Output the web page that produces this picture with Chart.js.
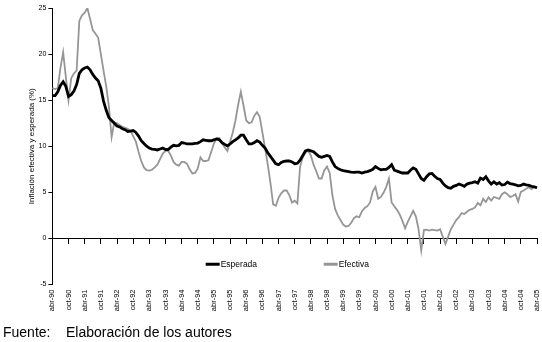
<!DOCTYPE html>
<html>
<head>
<meta charset="utf-8">
<script src="https://cdn.jsdelivr.net/npm/chart.js@4/dist/chart.umd.min.js"></script>
<style>
  body { margin: 0; background: #fff; }
  #caja { width: 542px; height: 342px; }
</style>
</head>
<body>
<div id="caja"><canvas id="grafico"></canvas></div>
<script>
// inflacion mensual, abr-90 a abr-05
var esperada = [
  15.5, 15.5, 15.9, 16.6, 17.0, 16.5, 15.4, 15.6, 16.0, 16.7,
  17.9, 18.3, 18.5, 18.6, 18.3, 17.8, 17.4, 17.1, 16.3, 14.9,
  13.9, 13.1, 12.8, 12.5, 12.2, 12.1, 11.9, 11.8, 11.6, 11.65,
  11.7, 11.5, 11.1, 10.6, 10.3, 10.0, 9.8, 9.7, 9.65, 9.6,
  9.7, 9.8, 9.65, 9.65, 9.9, 10.1, 10.05, 10.1, 10.4, 10.35,
  10.25, 10.25, 10.25, 10.3, 10.35, 10.5, 10.7, 10.65, 10.6, 10.6,
  10.7, 10.8, 10.7, 10.4, 10.2, 10.05, 10.25, 10.5, 10.7, 10.9,
  11.2, 11.2, 10.7, 10.25, 10.25, 10.4, 10.6, 10.45, 10.1, 9.8,
  9.3, 8.9, 8.5, 8.1, 8.0, 8.25, 8.35, 8.4, 8.4, 8.3,
  8.1, 8.15, 8.5, 9.0, 9.5, 9.6, 9.5, 9.4, 9.15, 8.9,
  8.8, 8.9, 9.0, 8.9, 8.3, 7.8, 7.6, 7.45, 7.35, 7.3,
  7.25, 7.2, 7.17, 7.2, 7.2, 7.1, 7.2, 7.25, 7.35, 7.5,
  7.8, 7.6, 7.45, 7.5, 7.5, 7.7, 8.0, 7.4, 7.3, 7.2,
  7.1, 7.1, 7.1, 7.4, 7.65, 7.5, 7.0, 6.5, 6.3, 6.7,
  7.0, 7.05, 6.75, 6.5, 6.4, 6.0, 5.7, 5.5, 5.45, 5.65,
  5.75, 5.9, 5.8, 5.65, 5.9, 6.0, 6.05, 6.15, 6.0, 6.55,
  6.4, 6.7, 6.25, 5.9, 6.15, 5.9, 6.05, 5.8, 5.85, 6.1,
  5.95, 5.9, 5.82, 5.7, 5.75, 5.9, 5.82, 5.75, 5.65, 5.6,
  5.5
]

var efectiva = [
  16.3, 16.2, 16.3, 18.5, 20.2, 17.5, 15.0, 17.4, 17.9, 18.2,
  23.6, 24.2, 24.5, 25.0, 23.8, 22.6, 22.2, 21.8, 20.0, 18.2,
  16.5, 14.3, 11.0, 12.6, 12.5, 12.3, 12.1, 12.0, 11.9, 11.7,
  11.1, 10.5, 9.4, 8.4, 7.7, 7.4, 7.35, 7.45, 7.7, 8.0,
  8.6, 9.2, 9.5, 9.5, 9.0, 8.3, 8.0, 7.9, 8.3, 8.3,
  8.1, 7.5, 7.05, 7.1, 7.6, 8.8, 8.4, 8.4, 8.5, 9.4,
  10.3, 10.85, 10.9, 10.3, 9.9, 9.5, 10.5, 11.5, 12.8, 14.5,
  15.9, 14.4, 12.8, 12.5, 12.6, 13.3, 13.7, 13.2, 11.5, 9.8,
  8.0, 6.0, 3.7, 3.55, 4.4, 4.9, 5.2, 5.2, 4.7, 3.9,
  4.1, 3.8, 7.8, 8.8, 9.3, 9.5, 9.0, 8.0, 7.3, 6.5,
  6.5, 7.4, 7.8, 7.1, 4.7, 3.2, 2.5, 2.0, 1.5, 1.3,
  1.35, 1.7, 2.2, 2.4, 2.3, 2.95, 3.3, 3.5, 3.9, 5.1,
  5.6, 4.3, 4.5, 4.95, 5.6, 6.5, 3.9, 3.5, 3.1, 2.6,
  1.9, 1.1, 1.8, 2.4, 3.0, 2.4, 1.0, -1.3, 0.9, 0.95,
  0.85, 0.95, 0.9, 0.85, 1.0, 0.2, -0.6, 0.2, 1.0, 1.5,
  2.0, 2.3, 2.75, 2.65, 2.9, 3.1, 3.2, 3.37, 3.85, 3.6,
  4.3, 3.95, 4.45, 4.1, 4.5, 4.4, 4.3, 4.8, 5.0, 4.8,
  4.5, 4.6, 4.8, 4.0, 5.05, 5.2, 5.4, 5.55, 5.35, 5.6,
  5.45
]

var meses = ['ene', 'feb', 'mar', 'abr', 'may', 'jun', 'jul', 'ago', 'sep', 'oct', 'nov', 'dic']
var mesInicial = 3   // abr
var anioInicial = 90
var pasoEtiqueta = 6 // una etiqueta cada seis meses
var valoresY = [-5, 25, 5] // min, max, paso

var etiquetas = []
for (var k = 0; k < esperada.length; k++) {
  var m = mesInicial + k
  var a = (anioInicial + Math.floor(m / 12)) % 100
  etiquetas.push(meses[m % 12] + '-' + (a < 10 ? '0' + a : a))
}

Chart.defaults.font.family = '"Liberation Sans", Arial, sans-serif'
Chart.defaults.color = '#000'

// leyenda dentro del area, bajo el cero
var leyendaInterna = {
  id: 'leyendaInterna',
  afterDatasetsDraw: function (chart) {
    var ctx = chart.ctx
    var area = chart.chartArea
    var y = chart.scales.y.getPixelForValue(-2.8)
    var x0 = (area.left + area.right) / 2 - 89
    ctx.save()
    ctx.font = '8.5px "Liberation Sans", Arial, sans-serif'
    ctx.textBaseline = 'middle'
    chart.data.datasets.forEach(function (ds, i) {
      var x = x0 + i * 118
      ctx.strokeStyle = ds.borderColor
      ctx.lineWidth = 3
      ctx.beginPath()
      ctx.moveTo(x, y)
      ctx.lineTo(x + 14, y)
      ctx.stroke()
      ctx.fillStyle = '#000'
      ctx.fillText(ds.label, x + 15, y)
    })
    ctx.restore()
  }
}

var grafico = new Chart(document.getElementById('grafico'), {
  type: 'line',
  data: {
    labels: etiquetas,
    datasets: [
      {
        label: 'Esperada',
        data: esperada,
        borderColor: '#000000',
        borderWidth: 2.8,
        pointRadius: 0,
        tension: 0,
        fill: false
      },
      {
        label: 'Efectiva',
        data: efectiva,
        borderColor: '#969696',
        borderWidth: 1.8,
        pointRadius: 0,
        tension: 0,
        fill: false
      }
    ]
  },
  options: {
    responsive: true,
    maintainAspectRatio: false,
    animation: false,
    layout: { padding: { left: 3, right: 5, top: 8, bottom: 0 } },
    plugins: {
      legend: { display: false },
      tooltip: { enabled: false },
      title: {
        display: true,
        position: 'bottom',
        align: 'start',
        text: 'Fuente:    Elaboración de los autores',
        color: '#000',
        font: { size: 14, weight: 'normal' },
        padding: { top: 9, bottom: 0 }
      }
    },
    scales: {
      // eje en el cero, solo linea y marcas
      x: {
        type: 'category',
        position: { y: 0 },
        offset: false,
        border: { display: true, color: '#000', width: 1 },
        grid: {
          drawOnChartArea: false,
          drawTicks: true,
          tickLength: 5,
          tickColor: function (c) { return c.index % pasoEtiqueta === 0 ? '#000' : 'rgba(0,0,0,0)' }
        },
        ticks: { display: false }
      },
      // etiquetas abajo
      x2: {
        type: 'category',
        position: 'bottom',
        offset: false,
        border: { display: false },
        grid: { display: false, drawTicks: false },
        ticks: {
          autoSkip: false,
          maxRotation: 90,
          minRotation: 90,
          padding: 5,
          font: { size: 7.5 },
          color: '#000',
          callback: function (v, i) { return i % pasoEtiqueta === 0 ? this.getLabelForValue(v) : '' }
        },
        afterFit: function (s) { s.paddingRight = 0 }
      },
      y: {
        min: valoresY[0],
        max: valoresY[1],
        border: { color: '#000', width: 1 },
        grid: { drawOnChartArea: false, drawTicks: true, tickLength: 4, tickColor: '#000' },
        ticks: { stepSize: valoresY[2], padding: 2, font: { size: 7 }, color: '#000' },
        title: {
          display: true,
          text: 'Inflación efectiva y esperada (%)',
          color: '#000',
          font: { size: 8 },
          padding: { top: 24, bottom: 0 }
        }
      }
    }
  },
  plugins: [leyendaInterna]
})
</script>
</body>
</html>
